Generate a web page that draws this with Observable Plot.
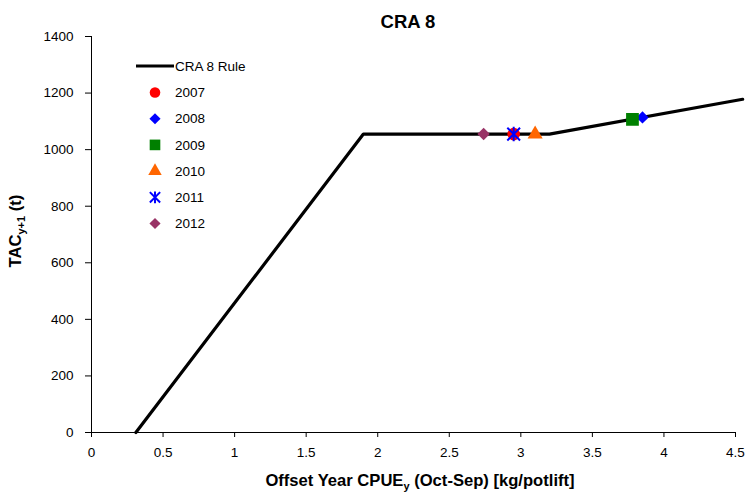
<!DOCTYPE html>
<html>
<head>
<meta charset="utf-8">
<script src="https://cdn.jsdelivr.net/npm/d3@7"></script>
<script src="https://cdn.jsdelivr.net/npm/@observablehq/plot@0.6"></script>
<style>
  html, body { margin: 0; padding: 0; background: #fff; }
  svg { display: block; }
</style>
</head>
<body>
<div id="chart"></div>
<script>
// ---- data ----
const ruleX = [0.31, 1.9, 3.2, 4.55];
const ruleY = [0, 1055, 1055, 1178];
const years = ["2007", "2008", "2009", "2010", "2011", "2012"];
const cpue = [2.95, 3.85, 3.78, 3.10, 2.95, 2.74];
const tac = [1055, 1114, 1107, 1055, 1055, 1055];
const xTicks = [0, 0.5, 1, 1.5, 2, 2.5, 3, 3.5, 4, 4.5];
const yTicks = [0, 200, 400, 600, 800, 1000, 1200, 1400];
const ruleName = "CRA 8 Rule";
const titleText = "CRA 8";

// ---- styles ----
const asteriskX = {
  draw(ctx, size) {
    const s = Math.sqrt(size);
    const rv = 0.66 * s, rd = 0.58 * s;
    ctx.moveTo(0, -rv); ctx.lineTo(0, rv);
    ctx.moveTo(-rd, -rd); ctx.lineTo(rd, rd);
    ctx.moveTo(-rd, rd); ctx.lineTo(rd, -rd);
  }
};
const styles = [
  {symbol: "circle", color: "#FF0000", r: 6.3, lr: 5.3, fill: true},
  {symbol: "diamond2", color: "#0000FF", r: 5.6, lr: 5, fill: true},
  {symbol: "square", color: "#008000", r: 7.2, lr: 6, fill: true},
  {symbol: "triangle", color: "#FF6600", r: 5.6, lr: 5, fill: true},
  {symbol: asteriskX, color: "#0000FF", r: 6.2, lr: 5, fill: false},
  {symbol: "diamond2", color: "#993366", r: 5.6, lr: 5, fill: true}
];

const rule = ruleX.map((x, i) => ({x, y: ruleY[i]}));
const pts = years.map((year, i) => ({year, x: cpue[i], y: tac[i]}));

const font = "'Liberation Sans', Arial, sans-serif";
const fmt = d => String(d);

const dotMarks = pts.map((p, i) => {
  const s = styles[i];
  return Plot.dot([p], {
    x: "x", y: "y", symbol: () => s.symbol, r: s.r,
    fill: s.fill ? s.color : "none",
    stroke: s.fill ? "none" : s.color,
    strokeWidth: s.fill ? 0 : 2
  });
});

const chart = Plot.plot({
  width: 746, height: 492,
  marginLeft: 91, marginRight: 11, marginTop: 36, marginBottom: 60,
  style: {fontFamily: font, fontSize: "13.5px", color: "#000", background: "#fff"},
  symbol: {type: "identity"},
  x: {domain: [0, 4.5], label: null},
  y: {domain: [0, 1400], label: null},
  marks: [
    Plot.axisX({ticks: xTicks, tickSize: 5, tickPadding: 10, tickFormat: fmt, label: null, stroke: "#000"}),
    Plot.axisY({ticks: yTicks, tickSize: 6, tickPadding: 12, tickFormat: fmt, label: null, stroke: "#000"}),
    Plot.ruleX([0], {stroke: "#000", strokeWidth: 1}),
    Plot.ruleY([0], {stroke: "#000", strokeWidth: 1}),
    Plot.line(rule, {x: "x", y: "y", stroke: "#000", strokeWidth: 3.2, strokeLinejoin: "miter"}),
    ...dotMarks
  ]
});

document.getElementById("chart").appendChild(chart);

// ---- titles and legend ----
const svg = d3.select(chart);

svg.append("text")
  .attr("x", 408).attr("y", 28)
  .attr("text-anchor", "middle")
  .attr("font-family", font).attr("font-size", "18.5px").attr("font-weight", "bold")
  .attr("fill", "#000")
  .text(titleText);

const xl = svg.append("text")
  .attr("x", 420).attr("y", 486)
  .attr("text-anchor", "middle")
  .attr("font-family", font).attr("font-size", "16.6px").attr("font-weight", "bold")
  .attr("fill", "#000");
xl.append("tspan").text("Offset Year CPUE");
xl.append("tspan").attr("font-size", "11px").attr("dy", 4).text("y");
xl.append("tspan").attr("dy", -4).text(" (Oct-Sep) [kg/potlift]");

const yl = svg.append("text")
  .attr("transform", "translate(21,231) rotate(-90)")
  .attr("text-anchor", "middle")
  .attr("font-family", font).attr("font-size", "16.6px").attr("font-weight", "bold")
  .attr("fill", "#000");
yl.append("tspan").text("TAC");
yl.append("tspan").attr("font-size", "11px").attr("dy", 4).text("y+1");
yl.append("tspan").attr("dy", -4).text(" (t)");

const lg = svg.append("g").attr("font-family", font).attr("font-size", "13.5px")
  .attr("fill", "#000").attr("text-anchor", "start");
lg.append("line").attr("x1", 136).attr("x2", 174).attr("y1", 66).attr("y2", 66)
  .attr("stroke", "#000").attr("stroke-width", 3.2);
lg.append("text").attr("x", 175).attr("y", 66).attr("dy", "0.35em").text(ruleName);

const symMap = {circle: d3.symbolCircle, diamond2: d3.symbolDiamond2, square: d3.symbolSquare, triangle: d3.symbolTriangle};
years.forEach((year, i) => {
  const s = styles[i];
  const cy = 92.5 + i * 26.2;
  const type = typeof s.symbol === "string" ? symMap[s.symbol] : s.symbol;
  lg.append("path")
    .attr("transform", `translate(155,${cy})`)
    .attr("d", d3.symbol(type, Math.PI * s.lr * s.lr)())
    .attr("fill", s.fill ? s.color : "none")
    .attr("stroke", s.fill ? "none" : s.color)
    .attr("stroke-width", s.fill ? 0 : 2);
  lg.append("text").attr("x", 175).attr("y", cy).attr("dy", "0.35em").text(year);
});
</script>
</body>
</html>
